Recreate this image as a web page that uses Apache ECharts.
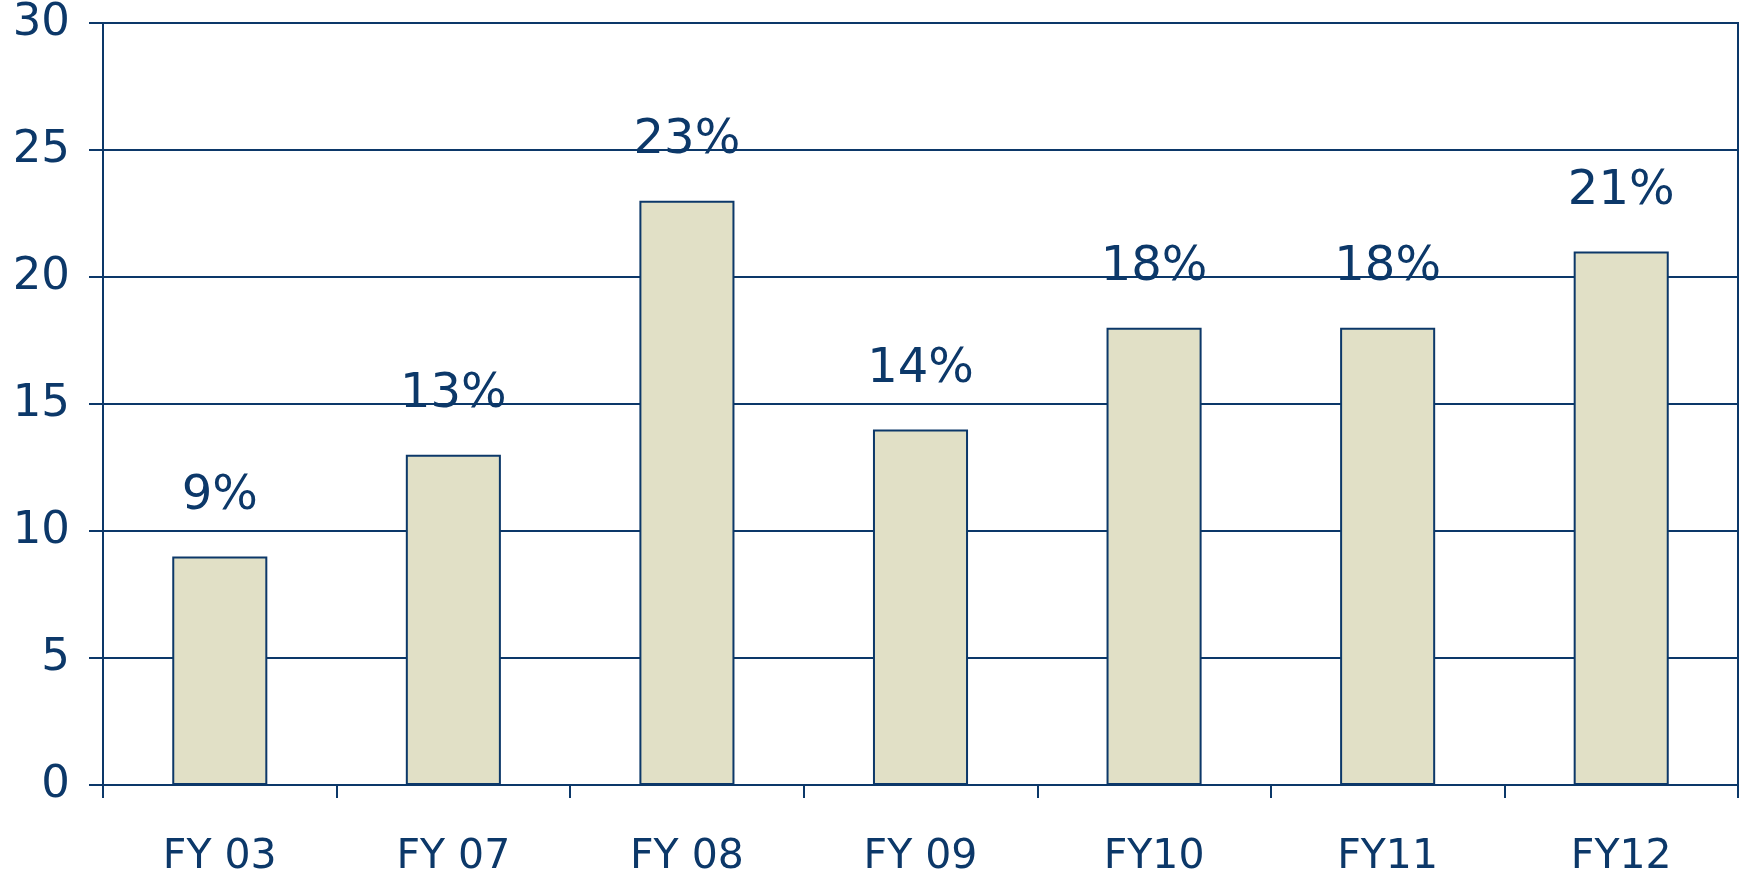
<!DOCTYPE html>
<html>
<head>
<meta charset="utf-8">
<title>FY chart</title>
<script src="https://cdn.jsdelivr.net/npm/echarts@6/dist/echarts.min.js"></script>
<style>
  html, body { margin: 0; padding: 0; background: #fff; }
  #chart { width: 1742px; height: 878px; }
</style>
</head>
<body>
<div id="chart"></div>
<script>
var years = ['FY 03', 'FY 07', 'FY 08', 'FY 09', 'FY10', 'FY11', 'FY12'];
var growth = [9, 13, 23, 14, 18, 18, 21];
var yTicks = [0, 5, 10, 15, 20, 25, 30];

(function() {
  var navy = '#0c3869';
  var myChart = echarts.init(document.getElementById('chart'));

  var option = {
    backgroundColor: '#fff',
    animation: false,
    textStyle: { fontFamily: 'DejaVu Sans' },
    grid: {
      left: 103,
      right: 4,
      top: 23,
      bottom: 91,
      show: true,
      borderColor: navy,
      borderWidth: 2
    },
    xAxis: {
      type: 'category',
      data: years,
      axisLine: { lineStyle: { color: navy, width: 2 } },
      axisTick: { show: true, length: 13, lineStyle: { color: navy, width: 2 } },
      axisLabel: { color: navy, fontSize: 41, margin: 52 }
    },
    yAxis: {
      type: 'value',
      min: yTicks[0],
      max: yTicks[yTicks.length - 1],
      interval: 5,
      axisLine: { show: true, lineStyle: { color: navy, width: 2 } },
      axisTick: { show: true, length: 14, lineStyle: { color: navy, width: 2 } },
      axisLabel: { color: navy, fontSize: 45, margin: 33 },
      splitLine: { lineStyle: { color: navy, width: 2 } }
    },
    series: [
      {
        type: 'bar',
        data: growth,
        barWidth: '40.7%',
        itemStyle: {
          color: '#e1e0c6',
          borderColor: navy,
          borderWidth: 2
        },
        label: {
          show: true,
          position: 'top',
          distance: 36,
          color: navy,
          fontSize: 48,
          formatter: '{c}%'
        }
      }
    ]
  };

  myChart.setOption(option);
  window.addEventListener('resize', function() {
    myChart.resize();
  });
})();
</script>
</body>
</html>
